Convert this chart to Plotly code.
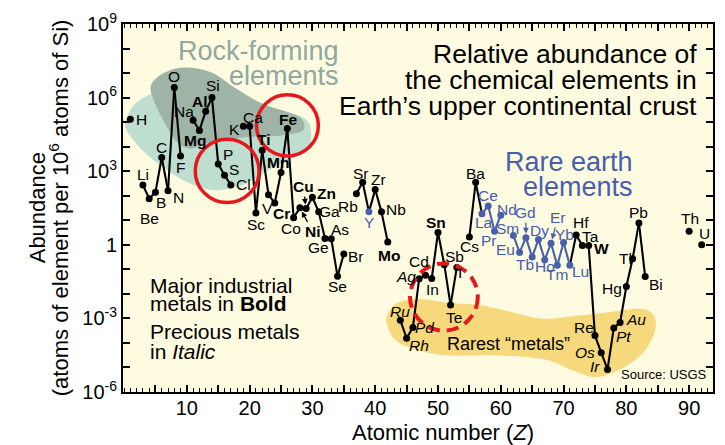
import math
import plotly.graph_objects as go

# ---- Data: abundance in the upper continental crust (atoms per 10^6 atoms of Si) ----
Z = [1, 3, 4, 5, 6, 7, 8, 9, 11, 12, 13, 14, 15, 16, 17, 19, 20, 21, 22, 23, 24, 25,
     26, 27, 28, 29, 30, 31, 32, 33, 34, 35, 37, 38, 39, 40, 41, 42, 44, 45, 46, 47,
     48, 49, 50, 51, 52, 53, 55, 56, 57, 58, 59, 60, 62, 63, 64, 65, 66, 67, 68, 69,
     70, 71, 72, 73, 74, 75, 76, 77, 78, 79, 80, 81, 82, 83, 90, 92]
SYMBOLS = ["H", "Li", "Be", "B", "C", "N", "O", "F", "Na", "Mg", "Al", "Si", "P", "S", "Cl",
           "K", "Ca", "Sc", "Ti", "V", "Cr", "Mn", "Fe", "Co", "Ni", "Cu", "Zn", "Ga", "Ge",
           "As", "Se", "Br", "Rb", "Sr", "Y", "Zr", "Nb", "Mo", "Ru", "Rh", "Pd", "Ag", "Cd",
           "In", "Sn", "Sb", "Te", "I", "Cs", "Ba", "La", "Ce", "Pr", "Nd", "Sm", "Eu", "Gd",
           "Tb", "Dy", "Ho", "Er", "Tm", "Yb", "Lu", "Hf", "Ta", "W", "Re", "Os", "Ir", "Pt",
           "Au", "Hg", "Tl", "Pb", "Bi", "Th", "U"]
ABUNDANCE = [1.3e5, 275, 76, 140, 3600, 160, 2.6e6, 4200, 1.2e5, 4.6e4, 2.75e5, 1.0e6,
             1950, 690, 275, 6.8e4, 6.8e4, 20, 7100, 110, 50, 890, 5.5e4, 12.6, 32, 30,
             87, 22, 1.8, 1.75, 0.052, 0.42, 120, 355, 22, 178, 22, 1.3, 8.5e-4, 1.55e-4,
             4.3e-4, 0.041, 0.058, 0.042, 3.2, 0.155, 3.5e-3, 0.12, 2.1, 355, 18.6, 38,
             3.6, 16.2, 2.4, 0.49, 1.95, 0.32, 1.66, 0.245, 1.15, 0.145, 1.23, 0.145, 2.5,
             0.93, 0.93, 2.0e-4, 4.0e-5, 8.3e-6, 4.1e-4, 6.8e-4, 0.020, 0.27, 7.8, 0.051,
             3.6, 1.0]

MAJOR_METALS = {"Mg", "Al", "Ti", "Cr", "Mn", "Fe", "Cu", "Ni", "Zn", "Mo", "Sn", "W"}
PRECIOUS_METALS = {"Ru", "Rh", "Pd", "Ag", "Os", "Ir", "Pt", "Au"}
LANTHANIDES = {"La", "Ce", "Pr", "Nd", "Sm", "Eu", "Gd", "Tb", "Dy", "Ho", "Er", "Tm", "Yb", "Lu"}
RARE_EARTHS = LANTHANIDES | {"Y"}

Y_TICK_EXP = list(range(-6, 10))
X_TICKS = list(range(5, 95, 5))

# ---- Styling ----
FONT = "Liberation Sans, Arial, sans-serif"
BLUE = "#4760AC"
RED = "#E5191D"
BG = "#FFFBE1"

# label offsets in pixels (dx to the right, dy downward) from each point
LABEL_OFFSETS = {
    "H": (11, 0), "Li": (0, -10), "Be": (0, 20), "B": (6, 10), "C": (0, -10),
    "N": (10, 7), "O": (0, -11), "F": (0, 12), "Na": (-9, -9), "Mg": (-4, 10),
    "Al": (-6, -10), "Si": (1, -12), "P": (10, -10), "S": (9, -6), "Cl": (13, 0),
    "K": (-9, 3), "Ca": (3, -9), "Sc": (0, 12), "Ti": (2, -11), "V": (-1, 14),
    "Cr": (7, 10), "Mn": (-3, -10), "Fe": (1, -9), "Co": (-3, 11), "Zn": (14, -4),
    "Ga": (11, 0), "Ge": (-6, 9), "As": (9, -9), "Se": (0, 10), "Br": (12, 2),
    "Rb": (-8, 13), "Sr": (-2, -9), "Y": (0, 11), "Zr": (3, -10), "Nb": (15, -2),
    "Mo": (1, 13), "Ru": (0, -9), "Rh": (12, 7), "Pd": (12, 0), "Ag": (-13, -2),
    "Cd": (-6, -14), "In": (1, 11), "Sn": (-2, -10), "Sb": (10, -8), "Te": (3, 12),
    "I": (3, 5), "Cs": (0, 10), "Ba": (0, -9), "La": (2, 9), "Ce": (0, -11),
    "Pr": (-6, 9), "Nd": (6, -6), "Sm": (-6, -7), "Eu": (-14, -3), "Tb": (-7, 8),
    "Dy": (1, -9), "Ho": (0, 7), "Tm": (0, 9), "Yb": (1, -8), "Lu": (11, 6),
    "Hf": (5, -13), "Ta": (8, -9), "W": (13, 3), "Re": (-11, -8), "Os": (-16, 0),
    "Ir": (-13, -3), "Pt": (10, 9), "Au": (16, -3), "Hg": (-14, 2), "Tl": (-7, 0),
    "Pb": (0, -10), "Bi": (11, 8), "Th": (1, -13), "U": (3, -11),
}
# labels joined to their point by a small arrow (text offset in pixels)
ARROW_LABELS = {"Cu": (-3, -22), "Ni": (13, 24), "Gd": (0, -25), "Er": (7, -26)}

# plot area in pixels
L, R, T, B = 123, 10, 20, 53
W, H = 725, 445
PW, PH = W - L - R, H - T - B


def to_paper(px, py):
    return (px - L) / PW, (H - B - py) / PH


def blob_path(points):
    """Closed smooth path (Catmull-Rom) through pixel points, in paper coordinates."""
    pts = [to_paper(*p) for p in points]
    n = len(pts)
    d = "M {:.4f},{:.4f}".format(*pts[0])
    for i in range(n):
        p0, p1, p2, p3 = pts[i - 1], pts[i], pts[(i + 1) % n], pts[(i + 2) % n]
        c1 = (p1[0] + (p2[0] - p0[0]) / 6, p1[1] + (p2[1] - p0[1]) / 6)
        c2 = (p2[0] - (p3[0] - p1[0]) / 6, p2[1] - (p3[1] - p1[1]) / 6)
        d += " C {:.4f},{:.4f} {:.4f},{:.4f} {:.4f},{:.4f}".format(*c1, *c2, *p2)
    return d + " Z"


def circle(cx, cy, r, dash="solid", width=3.5):
    x0, y0 = to_paper(cx - r, cy + r)
    x1, y1 = to_paper(cx + r, cy - r)
    return dict(type="circle", xref="paper", yref="paper", x0=x0, y0=y0, x1=x1, y1=y1,
                line=dict(color=RED, width=width, dash=dash), layer="above")


fig = go.Figure()

# connecting lines between consecutive elements
black_x, black_y, blue_x, blue_y = [], [], [], []
for i in range(len(Z) - 1):
    if Z[i + 1] - Z[i] != 1:
        continue
    if SYMBOLS[i] in LANTHANIDES and SYMBOLS[i + 1] in LANTHANIDES:
        blue_x += [Z[i], Z[i + 1], None]
        blue_y += [ABUNDANCE[i], ABUNDANCE[i + 1], None]
    else:
        black_x += [Z[i], Z[i + 1], None]
        black_y += [ABUNDANCE[i], ABUNDANCE[i + 1], None]

fig.add_trace(go.Scatter(x=black_x, y=black_y, mode="lines",
                         line=dict(color="black", width=2.1), hoverinfo="skip"))
fig.add_trace(go.Scatter(x=blue_x, y=blue_y, mode="lines",
                         line=dict(color=BLUE, width=2.1), hoverinfo="skip"))
fig.add_trace(go.Scatter(
    x=Z, y=ABUNDANCE, mode="markers", text=SYMBOLS,
    marker=dict(size=7, color=[BLUE if s in RARE_EARTHS else "black" for s in SYMBOLS]),
))

annotations = []

# element symbols
for z, s, v in zip(Z, SYMBOLS, ABUNDANCE):
    txt = s
    if s in MAJOR_METALS:
        txt = "<b>%s</b>" % s
    elif s in PRECIOUS_METALS:
        txt = "<i>%s</i>" % s
    color = BLUE if s in RARE_EARTHS else "black"
    if s in ARROW_LABELS:
        dx, dy = ARROW_LABELS[s]
        annotations.append(dict(x=z, y=math.log10(v), xref="x", yref="y", text=txt,
                                showarrow=True, ax=dx, ay=dy, arrowhead=2, arrowsize=0.9,
                                arrowwidth=1.3, arrowcolor=color, standoff=4,
                                font=dict(size=15.5, color=color)))
    else:
        dx, dy = LABEL_OFFSETS[s]
        annotations.append(dict(x=z, y=math.log10(v), xref="x", yref="y", text=txt,
                                showarrow=False, xshift=dx, yshift=-dy,
                                xanchor="center", yanchor="middle",
                                font=dict(size=15.5, color=color)))


def text_at(px, py, txt, size, color="black", anchor="left", angle=0):
    x, y = to_paper(px, py)
    annotations.append(dict(x=x, y=y, xref="paper", yref="paper", text=txt, showarrow=False,
                            xanchor=anchor, yanchor="middle", textangle=angle,
                            font=dict(size=size, color=color, family=FONT)))


# headings and notes
for py, line in [(50, "Relative abundance of"), (77, "the chemical elements in"),
                 (103, "Earth\u2019s upper continental crust")]:
    text_at(701, py, line, 26.5, anchor="right")
text_at(342, 47, "Rock-forming", 27, color="#8EA9A1", anchor="right")
text_at(342, 73, "elements", 27, color="#8EA9A1", anchor="right")
text_at(637, 160, "Rare earth", 27, color=BLUE, anchor="right")
text_at(637, 185, "elements", 27, color=BLUE, anchor="right")
text_at(148, 284, "Major industrial", 21)
text_at(148, 303, "metals in <b>Bold</b>", 21)
text_at(148, 331, "Precious metals", 21)
text_at(148, 351, "in <i>Italic</i>", 21)
text_at(510, 343, "Rarest \u201cmetals\u201d", 18, anchor="center")
text_at(711, 374, "Source: USGS", 13, anchor="right")

# axis titles
text_at(37, 206, "Abundance", 22, anchor="center", angle=-90)
text_at(59, 206, "(atoms of element per 10<sup>6</sup> atoms of Si)", 22, anchor="center", angle=-90)
text_at(444, 433, "Atomic number (<i>Z</i>)", 22, anchor="center")

# highlighted regions
rock_light = [(126, 118), (133, 103), (148, 92), (175, 84), (230, 95), (280, 107), (306, 116),
              (312, 132), (307, 147), (290, 157), (265, 170), (243, 183), (215, 188),
              (190, 181), (168, 168), (148, 153), (133, 137), (126, 126)]
rock_dark = [(151, 82), (165, 69), (186, 64), (212, 69), (236, 85), (262, 100), (291, 110),
             (303, 117), (303, 128), (280, 133), (250, 134), (224, 138), (205, 141),
             (190, 146), (177, 139), (165, 120), (155, 100)]
rarest = [(388, 315), (398, 302), (420, 298), (450, 302), (480, 304), (512, 311), (545, 318),
          (577, 315), (612, 311), (645, 308), (657, 318), (655, 336), (644, 353),
          (624, 368), (598, 377), (574, 370), (545, 359), (500, 355), (450, 355),
          (420, 350), (398, 341), (389, 327)]

shapes = [
    dict(type="path", xref="paper", yref="paper", path=blob_path(rock_light),
         fillcolor="#BEDED0", line=dict(width=0), layer="below"),
    dict(type="path", xref="paper", yref="paper", path=blob_path(rock_dark),
         fillcolor="#9DB4A7", line=dict(width=0), layer="below"),
    dict(type="path", xref="paper", yref="paper", path=blob_path(rarest),
         fillcolor="#F7D97D", line=dict(width=0), layer="below"),
    circle(227.5, 168.5, 32),
    circle(288, 122.5, 31),
    circle(445, 296, 34, dash="12px,7px", width=4),
]

fig.update_layout(
    width=W, height=H, margin=dict(l=L, r=R, t=T, b=B),
    paper_bgcolor="white", plot_bgcolor=BG, showlegend=False,
    font=dict(family=FONT, color="black"),
    annotations=annotations, shapes=shapes,
)
fig.update_xaxes(
    range=[-0.17, 93.8], showline=True, linecolor="black", linewidth=2, mirror="allticks",
    ticks="inside", ticklen=7, tickwidth=1.5, tickcolor="black",
    tickvals=X_TICKS, ticktext=[str(v) if v % 10 == 0 else "" for v in X_TICKS],
    tickfont=dict(size=20), ticklabelstandoff=-3, showgrid=False, zeroline=False,
    minor=dict(tick0=0, dtick=1, ticks="inside", ticklen=4, tickwidth=1, tickcolor="black"),
)
fig.update_yaxes(
    type="log", range=[-6, 9], showline=True, linecolor="black", linewidth=2, mirror="allticks",
    ticks="inside", ticklen=7, tickwidth=1.5, tickcolor="black",
    tickvals=[10.0 ** k for k in Y_TICK_EXP],
    ticktext=[("1" if k == 0 else "10<sup>%d</sup>" % k) if k % 3 == 0 else "" for k in Y_TICK_EXP],
    tickfont=dict(size=20), showgrid=False, zeroline=False,
)

fig.write_html("out.html")
